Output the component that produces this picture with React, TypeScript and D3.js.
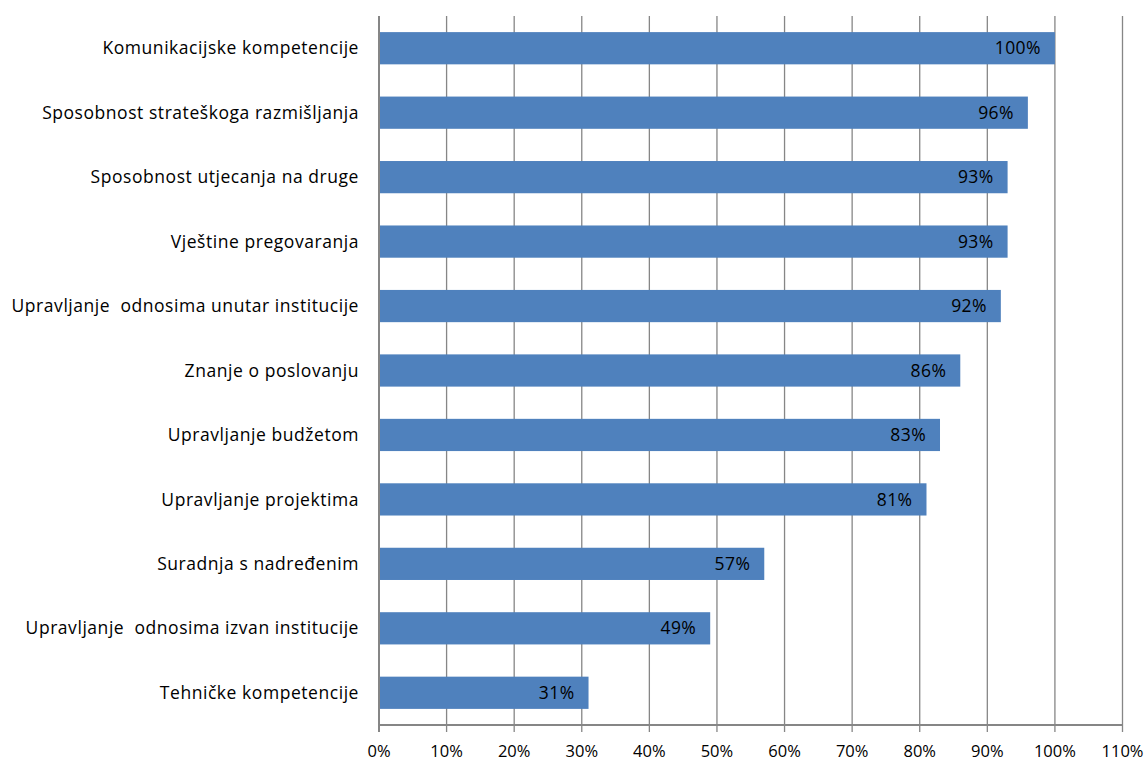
import React from "react";
import * as d3 from "d3";

const categories = [
  "Komunikacijske kompetencije",
  "Sposobnost strateškoga razmišljanja",
  "Sposobnost utjecanja na druge",
  "Vještine pregovaranja",
  "Upravljanje  odnosima unutar institucije",
  "Znanje o poslovanju",
  "Upravljanje budžetom",
  "Upravljanje projektima",
  "Suradnja s nadređenim",
  "Upravljanje  odnosima izvan institucije",
  "Tehničke kompetencije",
];
const values = [100, 96, 93, 93, 92, 86, 83, 81, 57, 49, 31];
const ticks = [0, 10, 20, 30, 40, 50, 60, 70, 80, 90, 100, 110];

const W = 1147;
const H = 762;
const left = 379;
const right = 1122.5;
const top = 16;
const bottom = 725;
const font = "'Open Sans', sans-serif";
const fs = 16.5;

export default function App() {
  const x = d3.scaleLinear().domain([0, 110]).range([left, right]);
  const y = d3.scaleBand().domain(categories).range([top, bottom]).paddingInner(0.5).paddingOuter(0.25);
  return (
    <svg width={W} height={H} style={{ position: "absolute", left: 0, top: 0 }} fontFamily={font}>
      <rect width={W} height={H} fill="#fff" />
      {ticks.map((t) => (
        <line key={"g" + t} x1={x(t)} x2={x(t)} y1={top} y2={bottom + 7} stroke="#868686" strokeWidth={1.3} />
      ))}
      {categories.map((c, i) => (
        <rect key={"b" + i} x={x(0)} y={y(c)!} width={x(values[i]) - x(0)} height={y.bandwidth()} fill="#4f81bd" />
      ))}
      {categories.map((c, i) => (
        <text key={"v" + i} x={x(values[i]) - 14} y={y(c)! + y.bandwidth() / 2} dy="0.35em" textAnchor="end" fontSize={17.5} letterSpacing={0.4} fill="#000">
          {values[i]}%
        </text>
      ))}
      <line x1={left} x2={left} y1={top} y2={bottom + 7} stroke="#868686" strokeWidth={2} />
      <line x1={left} x2={right} y1={bottom} y2={bottom} stroke="#868686" strokeWidth={2} />
      {categories.map((c) => (
        <text key={"l" + c} x={left - 20} y={y(c)! + y.bandwidth() / 2} dy="0.35em" textAnchor="end" fontSize={17.5} letterSpacing={0.55} fill="#000" style={{ whiteSpace: "pre" }}>
          {c}
        </text>
      ))}
      {ticks.map((t) => (
        <text key={"t" + t} x={x(t)} y={751} dy="0.35em" textAnchor="middle" fontSize={fs} fill="#000">
          {t}%
        </text>
      ))}
    </svg>
  );
}
